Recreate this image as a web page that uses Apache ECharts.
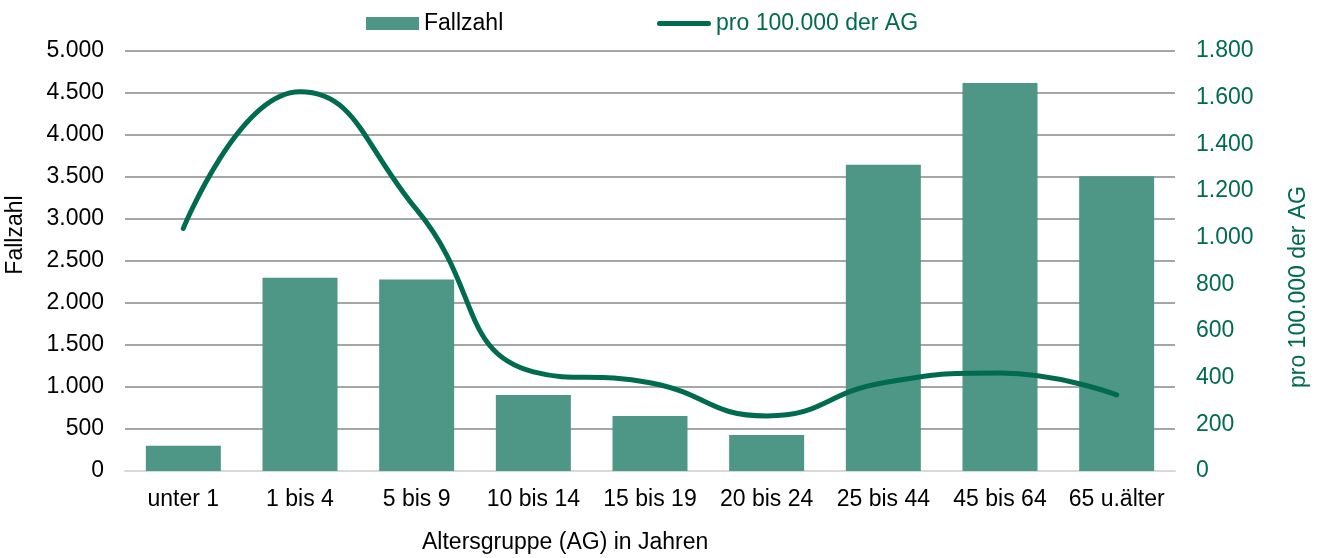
<!DOCTYPE html>
<html><head><meta charset="utf-8">
<script src="https://cdn.jsdelivr.net/npm/echarts@6/dist/echarts.min.js"></script>
<style>html,body{margin:0;padding:0;background:#fff}#c{width:1320px;height:558px}</style>
</head><body><div id="c"></div>
<script>
const categories = ['unter 1','1 bis 4','5 bis 9','10 bis 14','15 bis 19','20 bis 24','25 bis 44','45 bis 64','65 u.älter'];
const fallzahl = [300, 2300, 2280, 905, 655, 430, 3645, 4620, 3510];
const pro100k = [1040, 1625, 1120, 425, 378, 236, 378, 420, 326];
const leftTicks = {min:0, max:5000, interval:500};
const rightTicks = {min:0, max:1800, interval:200};

const fmt = v => String(v).replace(/\B(?=(\d{3})+(?!\d))/g, '.');
const font = 'Liberation Sans, Arial, sans-serif';
const FS = 23;
const lineColor = '#006B4F';
const barColor = '#4E9685';
const lineIcon = 'path://M2.5,0H51.5A2.5,2.5 0 0 1 51.5,5H2.5A2.5,2.5 0 0 1 2.5,0Z';

const chart = echarts.init(document.getElementById('c'));
chart.setOption({
  animation:false,
  textStyle:{fontFamily:font},
  legend:[
    {top:7, left:361, itemWidth:53, itemHeight:13,
     textStyle:{fontSize:FS, fontFamily:font, color:'#000'},
     data:[{name:'Fallzahl', icon:'rect'}]},
    {top:7, left:652, itemWidth:54, itemHeight:13,
     textStyle:{fontSize:FS, fontFamily:font, color:lineColor},
     data:[{name:'pro 100.000 der AG', icon:lineIcon, itemStyle:{color:lineColor}}]}
  ],
  grid:{left:125, right:145, top:51, bottom:87},
  xAxis:{
    type:'category', data:categories,
    axisLine:{lineStyle:{color:'#D9D9D9', width:2}},
    axisTick:{show:false},
    axisLabel:{fontSize:FS, color:'#000', margin:17, fontFamily:font, interval:0}
  },
  yAxis:[
    {type:'value', min:leftTicks.min, max:leftTicks.max, interval:leftTicks.interval,
     axisLabel:{fontSize:FS, color:'#000', formatter:fmt, margin:21, fontFamily:font},
     axisLine:{show:false}, axisTick:{show:false},
     splitLine:{lineStyle:{color:'#A6A6A6', width:2}}},
    {type:'value', min:rightTicks.min, max:rightTicks.max, interval:rightTicks.interval,
     axisLabel:{fontSize:FS, color:lineColor, formatter:fmt, margin:21, fontFamily:font},
     axisLine:{show:false}, axisTick:{show:false}, splitLine:{show:false}}
  ],
  graphic:[
    {type:'text', x:422, y:543, style:{text:'Altersgruppe (AG) in Jahren', fill:'#000', font:FS+'px '+font, verticalAlign:'middle'}},
    {type:'text', x:16, y:235, rotation:Math.PI/2, style:{text:'Fallzahl', fill:'#000', font:FS+'px '+font, align:'center', verticalAlign:'middle'}},
    {type:'text', x:1299, y:287, rotation:Math.PI/2, style:{text:'pro 100.000 der AG', fill:lineColor, font:FS+'px '+font, align:'center', verticalAlign:'middle'}}
  ],
  series:[
    {name:'Fallzahl', type:'bar', data:fallzahl, yAxisIndex:0, barWidth:75,
     itemStyle:{color:barColor}},
    {name:'pro 100.000 der AG', type:'line', data:pro100k, yAxisIndex:1, smooth:0.5,
     symbol:'none', lineStyle:{color:lineColor, width:5, cap:'round'}, itemStyle:{color:lineColor}}
  ]
});
</script></body></html>
